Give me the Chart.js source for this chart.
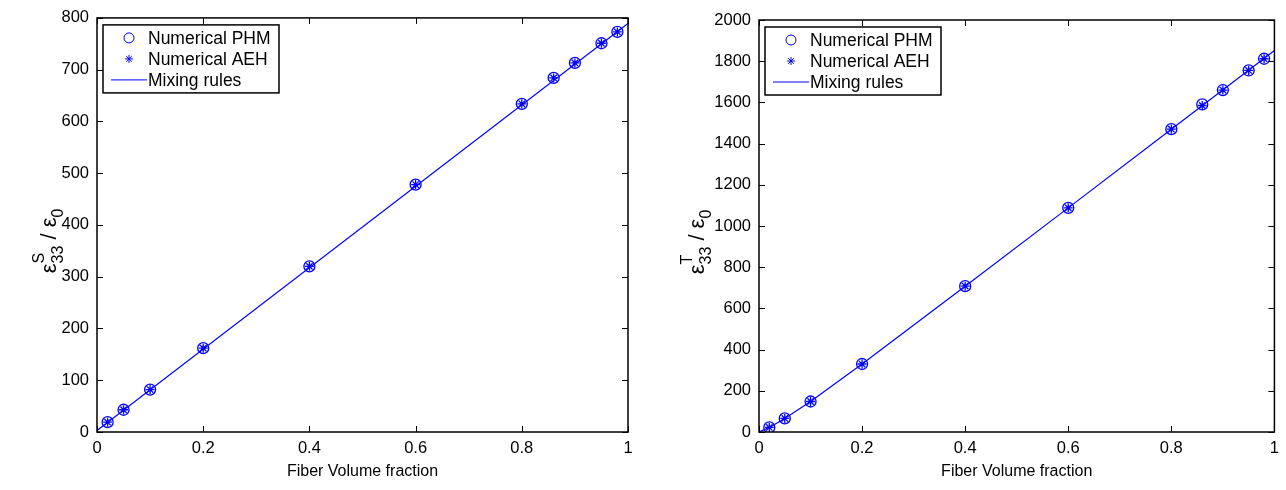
<!DOCTYPE html>
<html>
<head>
<meta charset="utf-8">
<script src="https://cdn.jsdelivr.net/npm/chart.js@4.4.1/dist/chart.umd.min.js"></script>
<style>
  html, body { margin: 0; padding: 0; background: #fff; }
  #wrap { width: 1286px; height: 490px; position: relative; }
  .panel { position: absolute; top: 0; width: 643px; height: 490px; }
</style>
</head>
<body>
<div id="wrap">
  <div class="panel" style="left:0"><canvas id="leftChart"></canvas></div>
  <div class="panel" style="left:643px"><canvas id="rightChart"></canvas></div>
</div>
<script>
// fiber volume fractions where the unit cells were solved
const fractions = [0.02, 0.05, 0.1, 0.2, 0.4, 0.6, 0.8, 0.86, 0.9, 0.95, 0.98];

// clamped permittivity e33S/e0
const phmS = [19, 43, 82, 162, 320, 478, 634, 684, 713, 751, 773];
const aehS = [19, 43, 82, 162, 320, 478, 634, 684, 713, 751, 773];
const mixFracS = [0, 1];
const mixS = [3, 789];

// free permittivity e33T/e0
const phmT = [22, 66, 148, 330, 708, 1088, 1470, 1590, 1660, 1755, 1812];
const aehT = [22, 66, 148, 330, 708, 1088, 1470, 1585, 1660, 1755, 1812];
const mixFracT = [0, 0.02, 0.05, 0.1, 0.2, 0.4, 0.6, 0.8, 1];
const mixT = [0, 22, 66, 148, 330, 708, 1088, 1470, 1852];

const xTicks = [0, 0.2, 0.4, 0.6, 0.8, 1];
const yTicksS = [0, 100, 200, 300, 400, 500, 600, 700, 800];
const yTicksT = [0, 200, 400, 600, 800, 1000, 1200, 1400, 1600, 1800, 2000];

const legendNames = ['Numerical PHM', 'Numerical AEH', 'Mixing rules'];

const BLUE = '#0000ff';
const FONT = '"Liberation Sans", Arial, Helvetica, sans-serif';

function pts(xs, ys) {
  return xs.map((x, i) => ({ x: x, y: ys[i] }));
}

// matlab style box: frame on all four sides with inward ticks
const boxPlugin = {
  id: 'box',
  afterDraw(chart) {
    const ctx = chart.ctx;
    const a = chart.chartArea;
    const xs = chart.scales.x, ys = chart.scales.y;
    ctx.save();
    ctx.strokeStyle = '#000';
    ctx.lineWidth = 1.5;
    ctx.strokeRect(a.left, a.top, a.right - a.left, a.bottom - a.top);
    ctx.lineWidth = 1;
    const len = 6;
    ctx.beginPath();
    xs.ticks.forEach(t => {
      const px = Math.round(xs.getPixelForValue(t.value)) + 0.5;
      ctx.moveTo(px, a.bottom); ctx.lineTo(px, a.bottom - len);
      ctx.moveTo(px, a.top); ctx.lineTo(px, a.top + len);
    });
    ys.ticks.forEach(t => {
      const py = Math.round(ys.getPixelForValue(t.value)) + 0.5;
      ctx.moveTo(a.left, py); ctx.lineTo(a.left + len, py);
      ctx.moveTo(a.right, py); ctx.lineTo(a.right - len, py);
    });
    ctx.stroke();
    ctx.restore();
  }
};

// legend in a framed box at the upper left of the axes
const legendBoxPlugin = {
  id: 'legendBox',
  afterDraw(chart) {
    const ctx = chart.ctx;
    const a = chart.chartArea;
    const x0 = a.left + 6, y0 = a.top + 7;
    const w = 176, h = 68;
    ctx.save();
    ctx.fillStyle = '#fff';
    ctx.fillRect(x0, y0, w, h);
    ctx.strokeStyle = '#000';
    ctx.lineWidth = 1.5;
    ctx.strokeRect(x0, y0, w, h);
    const rowY = [y0 + 13, y0 + 34, y0 + 55];
    const mx = x0 + 26;
    ctx.strokeStyle = BLUE;
    ctx.fillStyle = 'rgba(0,0,0,0)';
    ctx.lineWidth = 1;
    Chart.helpers.drawPoint(ctx, { pointStyle: 'circle', radius: 5, rotation: 0, borderWidth: 1.3 }, mx, rowY[0]);
    Chart.helpers.drawPoint(ctx, { pointStyle: 'star', radius: 4, rotation: 0, borderWidth: 1.3 }, mx, rowY[1]);
    ctx.beginPath();
    ctx.moveTo(x0 + 8, rowY[2]); ctx.lineTo(x0 + 44, rowY[2]);
    ctx.stroke();
    ctx.font = '17.5px ' + FONT;
    ctx.textBaseline = 'middle';
    ctx.fillStyle = '#000';
    legendNames.forEach((n, i) => ctx.fillText(n, x0 + 45, rowY[i] + 1));
    ctx.restore();
  }
};

// axis titles with sub/superscripts
function titlePlugin(sup, cx) {
  return {
    id: 'axisTitles',
    afterDraw(chart) {
      const ctx = chart.ctx;
      const a = chart.chartArea;
      const parts = [
        { t: '\u03b5', size: 22, dy: 0 },
        { t: sup, size: 16, dy: -12, stack: true },
        { t: '33', size: 16, dy: 7 },
        { t: ' / \u03b5', size: 22, dy: 0 },
        { t: '0', size: 16, dy: 7 }
      ];
      ctx.save();
      ctx.fillStyle = '#000';
      ctx.textBaseline = 'alphabetic';
      let total = 0;
      parts.forEach(p => {
        ctx.font = p.size + 'px ' + FONT;
        p.w = ctx.measureText(p.t).width;
        if (!p.stack) total += p.w;
      });
      const cy = (a.top + a.bottom) / 2 + 16;
      ctx.translate(cx, cy);
      ctx.rotate(-Math.PI / 2);
      let x = -total / 2;
      parts.forEach(p => {
        ctx.font = p.size + 'px ' + FONT;
        ctx.fillText(p.t, x, p.dy);
        if (!p.stack) x += p.w;
      });
      ctx.restore();

      ctx.save();
      ctx.fillStyle = '#000';
      ctx.font = '16px ' + FONT;
      ctx.textAlign = 'center';
      ctx.textBaseline = 'alphabetic';
      ctx.fillText('Fiber Volume fraction', (a.left + a.right) / 2, a.bottom + 44);
      ctx.restore();
    }
  };
}

function makeChart(id, phm, aeh, mixX, mixY, yMax, yTicks, area, sup, titleX) {
  return new Chart(document.getElementById(id), {
    type: 'scatter',
    data: {
      datasets: [
        {
          label: legendNames[0],
          data: pts(fractions, phm),
          pointStyle: 'circle',
          pointRadius: 5.5,
          borderColor: BLUE,
          backgroundColor: 'rgba(0,0,0,0)',
          pointBorderWidth: 1.3
        },
        {
          label: legendNames[1],
          data: pts(fractions, aeh),
          pointStyle: 'star',
          pointRadius: 4.5,
          borderColor: BLUE,
          backgroundColor: BLUE,
          pointBorderWidth: 1.3
        },
        {
          label: legendNames[2],
          data: pts(mixX, mixY),
          showLine: true,
          pointRadius: 0,
          borderColor: BLUE,
          borderWidth: 1.2,
          tension: 0
        }
      ]
    },
    options: {
      responsive: false,
      animation: false,
      events: [],
      layout: { padding: { top: area.top, right: area.right, left: 0, bottom: 0 } },
      plugins: { legend: { display: false }, tooltip: { enabled: false } },
      scales: {
        x: {
          type: 'linear',
          min: 0, max: 1,
          afterBuildTicks: s => { s.ticks = xTicks.map(v => ({ value: v })); },
          afterFit: s => { s.height = area.bottom; },
          grid: { display: false, drawTicks: false },
          border: { display: false },
          ticks: {
            color: '#000',
            padding: 7,
            font: { family: FONT, size: 16.5 },
            maxRotation: 0,
            callback: v => String(v)
          }
        },
        y: {
          type: 'linear',
          min: 0, max: yMax,
          afterBuildTicks: s => { s.ticks = yTicks.map(v => ({ value: v })); },
          afterFit: s => { s.width = area.left; },
          grid: { display: false, drawTicks: false },
          border: { display: false },
          ticks: {
            color: '#000',
            padding: 8,
            font: { family: FONT, size: 16.5 },
            callback: v => String(v)
          }
        }
      }
    },
    plugins: [boxPlugin, legendBoxPlugin, titlePlugin(sup, titleX)]
  });
}

for (const id of ['leftChart', 'rightChart']) {
  const c = document.getElementById(id);
  c.width = 643; c.height = 490;
}

makeChart('leftChart', phmS, aehS, mixFracS, mixS, 800, yTicksS,
  { left: 97, top: 13, right: 15, bottom: 58 }, 'S', 56);
makeChart('rightChart', phmT, aehT, mixFracT, mixT, 2000, yTicksT,
  { left: 116, top: 20, right: 4, bottom: 58 }, 'T', 61);
</script>
</body>
</html>
